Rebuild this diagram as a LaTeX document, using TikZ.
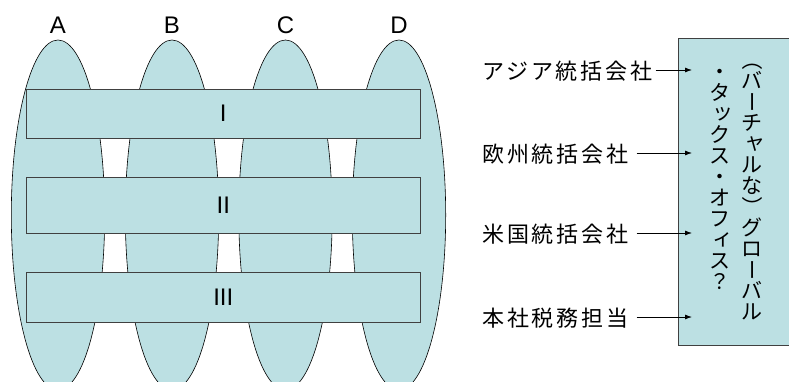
\documentclass[tikz,border=0pt]{standalone}
\usepackage{fontspec}
\setmainfont{Liberation Sans}
\newfontfamily\jp[LetterSpace=13]{Noto Sans CJK JP}
\newfontfamily\vjp{Noto Sans CJK JP}
\usetikzlibrary{shapes.geometric,arrows.meta}
\definecolor{tealfill}{HTML}{BCE0E3}
\definecolor{edgegray}{HTML}{404040}
\tikzset{
  oval/.style={ellipse, draw=black, line width=0.6pt, fill=tealfill, minimum width=93.4pt, minimum height=350pt, inner sep=0pt},
  band/.style={rectangle, draw=edgegray, line width=0.8pt, fill=tealfill, minimum width=393.3pt, inner sep=0pt, font=\fontsize{24}{28}\selectfont},
  collab/.style={anchor=base, inner sep=0pt, font=\fontsize{24}{28}\selectfont},
  jlab/.style={anchor=west, inner sep=0pt, text height=19.4pt, text depth=2.6pt, font=\jp\fontsize{22}{26}\selectfont},
  vch/.style={anchor=center, inner sep=0pt, text height=16pt, text depth=1pt, font=\vjp\fontsize{21}{21}\selectfont},
  vrot/.style={rotate=-90},
  vsmall/.style={xshift=2.5pt, yshift=1pt, text height=13pt, text depth=0pt},
  vnorm/.style={},
  arr/.style={draw=black, line width=0.8pt, -{Latex[length=7pt,width=5pt]}},
  gbox/.style={rectangle, draw=edgegray, line width=0.8pt, fill=tealfill, anchor=north west, minimum width=140pt, minimum height=307pt, inner sep=0pt}
}
\begin{document}
\begin{tikzpicture}[x=1pt,y=-1pt]
\useasboundingbox (0,0) rectangle (789,381);
\begin{scope}
\clip (0,0) rectangle (789,381);
\node[oval] (eA) at (58,215) {};
\node[oval] (eB) at (172,215) {};
\node[oval] (eC) at (285.5,215) {};
\node[oval] (eD) at (399,215) {};
\node[band, minimum height=49pt] (b1) at (223.3,113.5) {I};
\node[band, minimum height=56pt] (b2) at (223.3,205) {II};
\node[band, minimum height=50pt] (b3) at (223.3,297) {III};
\node[gbox] (gb) at (678,38) {};
\end{scope}
\node[collab] (lA) at (58,33) {A};
\node[collab] (lB) at (172,33) {B};
\node[collab] (lC) at (285.5,33) {C};
\node[collab] (lD) at (399,33) {D};
% vertical text
\foreach \c/\s [count=\i from 0] in {（/vrot,バ/vnorm,ー/vrot,チ/vnorm,ャ/vsmall,ル/vnorm,な/vnorm,）/vrot,グ/vnorm,ロ/vnorm,ー/vrot,バ/vnorm,ル/vnorm}
  \node[vch,\s] (r\i) at (752,{60+21*\i}) {\c};
\foreach \c/\s [count=\i from 0] in {・/vnorm,タ/vnorm,ッ/vsmall,ク/vnorm,ス/vnorm,・/vnorm,オ/vnorm,フ/vnorm,ィ/vsmall,ス/vnorm,？/vnorm}
  \node[vch,\s] (l\i) at (720,{72+21*\i}) {\c};
% labels and arrows
\node[jlab] (asia) at (482,71) {アジア統括会社};
\node[jlab] (euro) at (482,154) {欧州統括会社};
\node[jlab] (usa) at (482,234) {米国統括会社};
\node[jlab] (hq) at (482,318) {本社税務担当};
\coordinate (t1) at (692,70);
\coordinate (t2) at (692,153);
\coordinate (t3) at (692,233);
\coordinate (t4) at (692,317);
\draw[arr, shorten <=3pt] (asia.east |- t1) -- (t1);
\draw[arr, shorten <=8pt] (euro.east |- t2) -- (t2);
\draw[arr, shorten <=8pt] (usa.east |- t3) -- (t3);
\draw[arr, shorten <=8pt] (hq.east |- t4) -- (t4);
\end{tikzpicture}
\end{document}
